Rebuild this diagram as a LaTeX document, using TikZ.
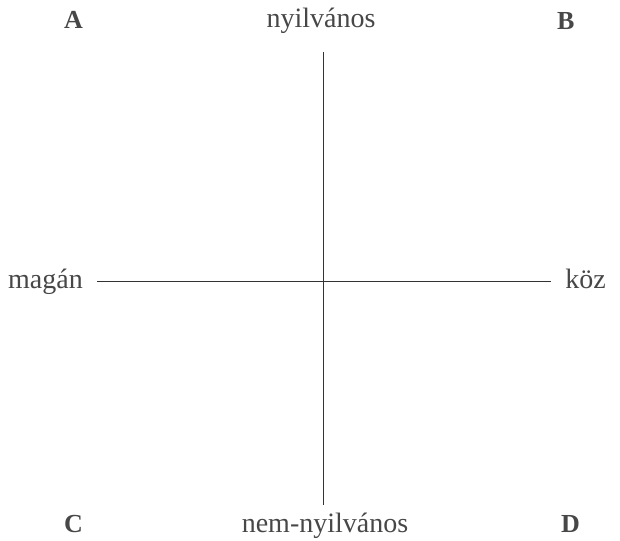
\documentclass[tikz,border=0pt]{standalone}
\usepackage{fontspec}
\setmainfont{Liberation Serif}
\begin{document}
\begin{tikzpicture}[x=1pt,y=-1pt,
  lbl/.style={inner sep=0pt,anchor=base west,font=\fontsize{28}{32}\selectfont,text=black!72},
  corner/.style={lbl,font=\fontsize{26}{30}\selectfont\bfseries},
  axis/.style={draw=black!80,line width=1pt}]
\useasboundingbox (0,0) rectangle (620,540);
\node[corner] (A) at (64,29) {A};
\node[corner] (B) at (557,30) {B};
\node[corner] (C) at (64,532) {C};
\node[corner] (D) at (561,532) {D};
\node[lbl,anchor=base] (top) at (321,28) {nyilvános};
\node[lbl,anchor=base] (bot) at (325,532) {nem-nyilvános};
\node[lbl] (left) at (8,288) {magán};
\node[lbl,anchor=base east] (right) at (606,288) {köz};
\coordinate (vt) at (323,52);
\coordinate (vb) at (323,505);
\coordinate (hl) at (97,281);
\coordinate (hr) at (551,281);
\draw[axis] (vt) -- (vb);
\draw[axis] (hl) -- (hr);
\end{tikzpicture}
\end{document}
